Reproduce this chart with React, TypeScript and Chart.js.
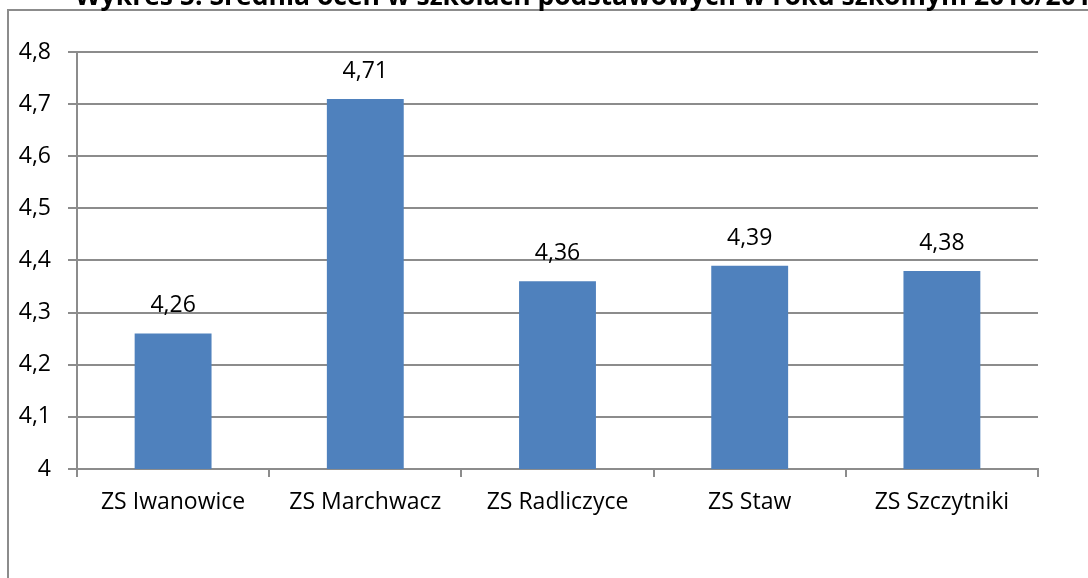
import React, { useEffect, useRef } from "react";
import { Chart, registerables } from "chart.js";

Chart.register(...registerables);

const titleText = "Wykres 5. Średnia ocen w szkołach podstawowych w roku szkolnym 2016/2017";
const categories = ["ZS Iwanowice", "ZS Marchwacz", "ZS Radliczyce", "ZS Staw", "ZS Szczytniki"];
const averages = [4.26, 4.71, 4.36, 4.39, 4.38];
const yMin = 4;
const yMax = 4.8;
const yStep = 0.1;

const FONT = '"Open Sans", "Noto Sans", sans-serif';

const fmt = (v: number) => String(Math.round(v * 100) / 100).replace(".", ",");

const framePlugin = {
  id: "frameAndTitle",
  beforeDraw(chart: any) {
    const ctx = chart.ctx;
    ctx.save();
    ctx.fillStyle = "#ffffff";
    ctx.fillRect(0, 0, chart.width, chart.height);
    ctx.strokeStyle = "#8c8c8c";
    ctx.lineWidth = 2;
    ctx.strokeRect(8, 10, 1300, 800);
    ctx.fillStyle = "#000000";
    ctx.font = `bold 26.5px ${FONT}`;
    ctx.textAlign = "left";
    ctx.textBaseline = "alphabetic";
    ctx.fillText(titleText, 75, 5);
    ctx.restore();
  },
};

const labelPlugin = {
  id: "valueLabels",
  afterDatasetsDraw(chart: any) {
    const ctx = chart.ctx;
    const meta = chart.getDatasetMeta(0);
    const data = chart.data.datasets[0].data as number[];
    ctx.save();
    ctx.fillStyle = "#000000";
    ctx.font = `23px ${FONT}`;
    ctx.textAlign = "center";
    ctx.textBaseline = "alphabetic";
    meta.data.forEach((bar: any, i: number) => {
      ctx.fillText(fmt(data[i]), bar.x, bar.y - 21);
    });
    ctx.restore();
  },
};

export default function App() {
  const ref = useRef<HTMLCanvasElement>(null);
  useEffect(() => {
    if (!ref.current) return;
    const chart = new Chart(ref.current, {
      type: "bar",
      data: {
        labels: categories,
        datasets: [
          {
            data: averages,
            backgroundColor: "#4F81BD",
            categoryPercentage: 1,
            barPercentage: 0.4,
          },
        ],
      },
      options: {
        animation: false,
        responsive: false,
        layout: { padding: { left: 0, top: 52, right: 50, bottom: 0 } },
        plugins: { legend: { display: false }, tooltip: { enabled: false }, title: { display: false } },
        scales: {
          x: {
            grid: {
              offset: true,
              drawOnChartArea: false,
              drawTicks: true,
              tickLength: 8,
              color: "#8c8c8c",
              lineWidth: 2,
            },
            border: { display: true, color: "#8c8c8c", width: 2 },
            ticks: { color: "#000", font: { family: FONT, size: 23 }, padding: 12, maxRotation: 0, autoSkip: false },
            afterFit: (s: any) => {
              s.height = 109;
            },
          },
          y: {
            min: yMin,
            max: yMax,
            grid: { color: "#8c8c8c", lineWidth: 2, tickLength: 9, drawTicks: true },
            border: { display: true, color: "#8c8c8c", width: 2 },
            ticks: {
              stepSize: yStep,
              color: "#000",
              font: { family: FONT, size: 23 },
              padding: 17,
              callback: (v: any) => fmt(Number(v)),
            },
            afterFit: (s: any) => {
              s.width = 77;
            },
          },
        },
      },
      plugins: [framePlugin, labelPlugin],
    });
    return () => chart.destroy();
  }, []);
  return (
    <div style={{ position: "fixed", left: 0, top: 0, width: 1088, height: 578, background: "#fff" }}>
      <canvas ref={ref} width={1088} height={578} style={{ width: 1088, height: 578, display: "block" }} />
    </div>
  );
}
